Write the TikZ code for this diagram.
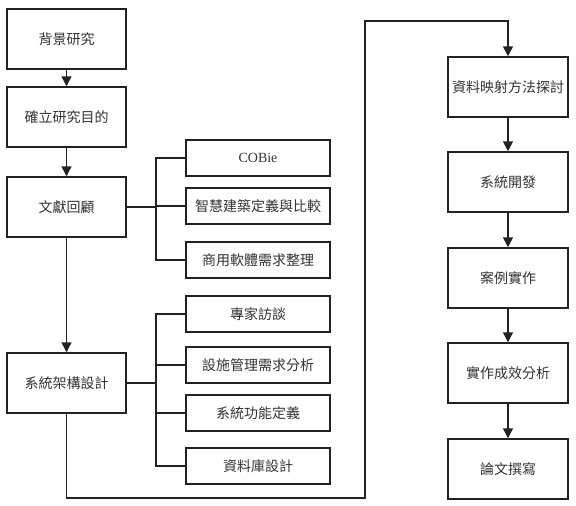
\documentclass[tikz,border=0pt]{standalone}
\usepackage{fontspec}
\newfontfamily\cjk{Noto Sans CJK TC}
\setmainfont{Liberation Serif}
\usetikzlibrary{arrows.meta}
\definecolor{txt}{HTML}{333333}
\definecolor{ln}{HTML}{222222}
\tikzset{
  base/.style={draw=ln,line width=1.5pt,fill=white,text=txt,font=\cjk\fontsize{14}{16}\selectfont,inner sep=0pt},
  bigbox/.style={base,minimum width=119pt,minimum height=60pt},
  midbox/.style={base,minimum width=144pt,minimum height=36pt},
  rbox/.style={base,minimum width=120pt,minimum height=60pt},
  conn/.style={draw=ln,line width=1.5pt},
  arr/.style={conn,-{Triangle[width=10pt,length=10pt]}}
}
\begin{document}
\begin{tikzpicture}[x=1pt,y=-1pt]
\useasboundingbox[fill=white] (0,0) rectangle (576,506);
% left column
\node[bigbox] (l1) at (66.5,39) {背景研究};
\node[bigbox] (l2) at (66.5,117) {確立研究目的};
\node[bigbox] (l3) at (66.5,207) {文獻回顧};
\node[bigbox] (l4) at (66.5,383) {系統架構設計};
% middle column
\node[midbox] (m1) at (258,158) {\rmfamily COBie};
\node[midbox] (m2) at (258,206) {智慧建築定義與比較};
\node[midbox] (m3) at (258,260) {商用軟體需求整理};
\node[midbox] (m4) at (258,314) {專家訪談};
\node[midbox] (m5) at (258,365) {設施管理需求分析};
\node[midbox] (m6) at (258,413) {系統功能定義};
\node[midbox] (m7) at (258,466) {資料庫設計};
% right column
\node[rbox] (r1) at (508,87) {資料映射方法探討};
\node[rbox] (r2) at (508,182) {系統開發};
\node[rbox] (r3) at (508,278) {案例實作};
\node[rbox] (r4) at (508,373) {實作成效分析};
\node[rbox] (r5) at (508,469) {論文撰寫};
% arrows left
\draw[arr] (l1) -- (l2);
\draw[arr] (l2) -- (l3);
\draw[arr] (l3) -- (l4);
% bracket 1
\coordinate (b1) at (156,207);
\draw[conn] (l3.east) -- (b1);
\draw[conn] (b1) |- (m1.west);
\draw[conn] (b1) |- (m2.west);
\draw[conn] (b1) |- (m3.west);
% bracket 2
\coordinate (b2) at (156,383);
\draw[conn] (l4.east) -- (b2);
\draw[conn] (b2) |- (m4.west);
\draw[conn] (b2) |- (m5.west);
\draw[conn] (b2) |- (m6.west);
\draw[conn] (b2) |- (m7.west);
% loop
\coordinate (c1) at (66.5,498);
\coordinate (c2) at (365,498);
\coordinate (c3) at (365,21);
\coordinate (c4) at (508,21);
\draw[arr] (l4.south) -- (c1) -- (c2) -- (c3) -- (c4) -- (r1.north);
% arrows right
\draw[arr] (r1) -- (r2);
\draw[arr] (r2) -- (r3);
\draw[arr] (r3) -- (r4);
\draw[arr] (r4) -- (r5);
\end{tikzpicture}
\end{document}
